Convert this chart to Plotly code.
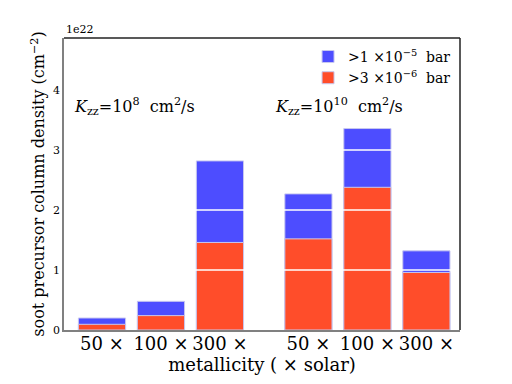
import plotly.graph_objects as go

# data (units of 1e22 cm^-2)
labels = ["50 ×", "100 ×", "300 ×", "50 ×", "100 ×", "300 ×"]
positions = [0, 1, 2, 3.5, 4.5, 5.5]
high_p = [0.20, 0.478, 2.82, 2.27, 3.36, 1.32]   # >1e-5 bar
low_p = [0.095, 0.24, 1.46, 1.52, 2.38, 0.96]    # >3e-6 bar
ytick_vals = [0, 1, 2, 3, 4]

blue = "#4d4dff"
red = "#ff4d2a"
font = "DejaVu Serif"

fig = go.Figure()
fig.add_trace(go.Bar(x=positions, y=high_p, width=0.8, marker=dict(color=blue, line=dict(color="#c8c8f0", width=1)),
                     name="&gt;1 ×10<sup>−5</sup>  bar"))
fig.add_trace(go.Bar(x=positions, y=low_p, width=0.8, marker=dict(color=red, line=dict(color="#c8c8f0", width=1)),
                     name="&gt;3 ×10<sup>−6</sup>  bar"))

fig.update_layout(
    width=504, height=376,
    margin=dict(l=56, r=52, t=30, b=54),
    barmode="overlay",
    plot_bgcolor="white", paper_bgcolor="white",
    font=dict(family=font, color="black"),
    showlegend=True,
    legend=dict(x=0.99, y=0.99, xanchor="right", yanchor="top", font=dict(size=14, family=font),
                bgcolor="rgba(0,0,0,0)", itemwidth=30, tracegroupgap=0),
    xaxis=dict(range=[-0.644, 6.07], tickvals=positions, ticktext=labels, tickfont=dict(size=18),
               showgrid=False, zeroline=False, showline=True, linecolor="#808080", linewidth=1.5,
               ticks="", automargin=False, ticklabelstandoff=-3,
               title=dict(text="metallicity ( × solar)", font=dict(size=18), standoff=0)),
    yaxis=dict(range=[0, 4.87], tickvals=ytick_vals, tickfont=dict(size=11), showgrid=False,
               zeroline=False, showline=True, linecolor="#808080", automargin=False,
               linewidth=1.5, ticks="", title=dict(text="soot precursor column density (cm<sup>−2</sup>)",
                                                      font=dict(size=16), standoff=4)),
)

# white grid lines drawn over the bars
for v in ytick_vals[1:]:
    fig.add_shape(type="line", xref="paper", yref="y", x0=0, x1=1, y0=v, y1=v, layer="above",
                  line=dict(color="white", width=1.5))

# top and right spines
fig.add_shape(type="line", xref="paper", yref="paper", x0=0, x1=1, y0=1, y1=1, line=dict(color="#222", width=1.5))
fig.add_shape(type="line", xref="paper", yref="paper", x0=1, x1=1, y0=0, y1=1, line=dict(color="#222", width=1.5))

fig.add_annotation(text="1e22", xref="paper", yref="paper", x=0, y=1, xanchor="left", yanchor="bottom",
                   showarrow=False, font=dict(size=11))
fig.add_annotation(text="<i>K</i><sub>zz</sub>=10<sup>8</sup>  cm<sup>2</sup>/s", x=-0.5, y=3.72, xanchor="left",
                   showarrow=False, font=dict(size=16))
fig.add_annotation(text="<i>K</i><sub>zz</sub>=10<sup>10</sup>  cm<sup>2</sup>/s", x=2.9, y=3.72, xanchor="left",
                   showarrow=False, font=dict(size=16))

fig.write_html("out.html")
